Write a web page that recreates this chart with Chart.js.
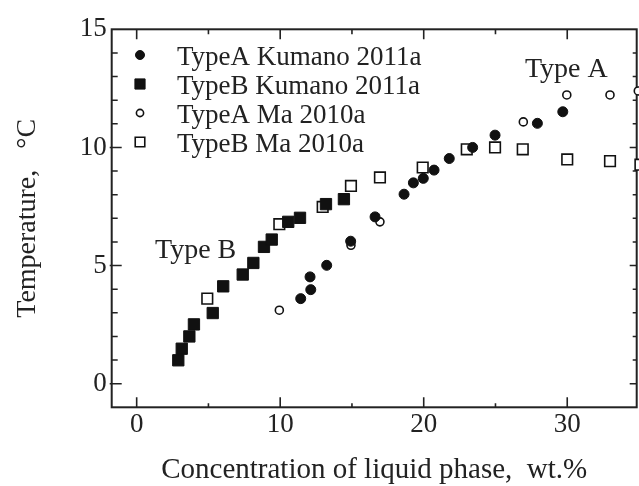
<!DOCTYPE html>
<html>
<head>
<meta charset="utf-8">
<script src="https://cdn.jsdelivr.net/npm/chart.js@4.4.1/dist/chart.umd.min.js"></script>
<style>
  html, body { margin: 0; padding: 0; background: #fff; }
  #wrap { width: 639px; height: 486px; }
</style>
</head>
<body>
<div id="wrap"><canvas id="phaseChart" width="639" height="486"></canvas></div>
<script>
// series names (legend order)
const seriesNames = ['TypeA Kumano 2011a', 'TypeB Kumano 2011a', 'TypeA Ma 2010a', 'TypeB Ma 2010a'];

// TypeA Kumano 2011a  (filled circles)
const typeAKumanoX = [11.43, 12.13, 12.08, 13.24, 14.91, 16.61, 18.63, 19.28, 19.97, 20.72, 21.78, 23.41, 24.97, 27.92, 29.69];
const typeAKumanoY = [3.60, 3.98, 4.52, 5.01, 6.03, 7.06, 8.02, 8.50, 8.69, 9.04, 9.53, 10.00, 10.52, 11.02, 11.51];

// TypeB Kumano 2011a  (filled squares)
const typeBKumanoX = [2.90, 3.14, 3.67, 3.99, 5.30, 6.03, 7.39, 8.13, 8.87, 9.41, 10.56, 11.38, 13.19, 14.44];
const typeBKumanoY = [0.99, 1.48, 2.00, 2.51, 2.99, 4.12, 4.62, 5.11, 5.79, 6.10, 6.85, 7.02, 7.60, 7.81];

// TypeA Ma 2010a  (open circles)
const typeAMaX = [9.94, 14.93, 16.95, 26.94, 29.97, 32.98, 34.95];
const typeAMaY = [3.11, 5.86, 6.85, 11.08, 12.22, 12.22, 12.39];

// TypeB Ma 2010a  (open squares)
const typeBMaX = [4.92, 9.94, 12.96, 14.93, 16.95, 19.93, 23.00, 24.97, 26.90, 30.00, 32.98, 35.1];
const typeBMaY = [3.60, 6.75, 7.48, 8.37, 8.73, 9.15, 9.92, 10.00, 9.92, 9.49, 9.42, 9.27];

// labelled ticks
const xTickLabels = [0, 10, 20, 30];
const yTickLabels = [0, 5, 10, 15];

// text notes placed in data units
const noteText = ['Type A', 'Type B'];
const noteX = [27.05, 1.28];
const noteY = [13.0, 5.3];

const serif = 'Liberation Serif, Times New Roman, serif';
const ink = '#222';

const toPoints = (xs, ys) => xs.map((x, i) => ({ x: x, y: ys[i] }));

// box with inward ticks on all four sides
const framePlugin = {
  id: 'frame',
  beforeDatasetsDraw(chart) {
    const { ctx, chartArea: a, scales: { x, y } } = chart;
    ctx.save();
    ctx.strokeStyle = ink;
    ctx.lineWidth = 2;
    ctx.strokeRect(a.left, a.top, a.right - a.left, a.bottom - a.top);
    ctx.lineWidth = 1.6;
    ctx.beginPath();
    x.ticks.forEach(t => {
      if (t.value <= x.min || t.value >= x.max) return;
      const px = x.getPixelForValue(t.value);
      const major = t.value % 10 === 0;
      ctx.moveTo(px, a.bottom); ctx.lineTo(px, a.bottom - (major ? 10 : 4));
      ctx.moveTo(px, a.top); ctx.lineTo(px, a.top + (major ? 10 : 5));
    });
    y.ticks.forEach(t => {
      if (t.value <= y.min || t.value >= y.max) return;
      const py = y.getPixelForValue(t.value);
      const major = t.value % 5 === 0;
      ctx.moveTo(a.left - (major ? 2 : 0), py); ctx.lineTo(a.left + (major ? 10 : 6), py);
      ctx.moveTo(a.right, py); ctx.lineTo(a.right - (major ? 7 : 4), py);
    });
    ctx.stroke();
    ctx.restore();
  }
};

// legend box in the upper left of the plot
const legendPlugin = {
  id: 'boxLegend',
  afterDraw(chart) {
    const ctx = chart.ctx;
    ctx.save();
    ctx.font = '27px ' + serif;
    ctx.fillStyle = ink;
    ctx.textAlign = 'left';
    ctx.textBaseline = 'alphabetic';
    chart.data.datasets.forEach((ds, i) => {
      const base = 65 + i * 29;
      const mx = 140, my = base - 10;
      const r = ds.pointRadius * 0.9;
      ctx.beginPath();
      if (ds.pointStyle === 'rect') {
        const s = Math.SQRT1_2 * r;
        ctx.rect(mx - s, my - s, 2 * s, 2 * s);
      } else {
        ctx.arc(mx, my, r, 0, Math.PI * 2);
      }
      ctx.fillStyle = ds.pointBackgroundColor;
      ctx.fill();
      ctx.lineWidth = ds.pointBorderWidth;
      ctx.strokeStyle = ds.pointBorderColor;
      ctx.stroke();
      ctx.fillStyle = ink;
      ctx.fillText(ds.label, 177, base);
    });
    ctx.restore();
  }
};

const notesPlugin = {
  id: 'notes',
  afterDraw(chart) {
    const { ctx, scales: { x, y } } = chart;
    ctx.save();
    ctx.font = '28px ' + serif;
    ctx.fillStyle = ink;
    ctx.textAlign = 'left';
    ctx.textBaseline = 'alphabetic';
    noteText.forEach((t, i) => {
      ctx.fillText(t, x.getPixelForValue(noteX[i]), y.getPixelForValue(noteY[i]));
    });
    ctx.restore();
  }
};

new Chart(document.getElementById('phaseChart'), {
  type: 'scatter',
  data: {
    datasets: [
      {
        label: seriesNames[0],
        data: toPoints(typeAKumanoX, typeAKumanoY),
        pointStyle: 'circle', pointRadius: 5,
        pointBackgroundColor: '#111', pointBorderColor: '#111', pointBorderWidth: 1,
        clip: false
      },
      {
        label: seriesNames[1],
        data: toPoints(typeBKumanoX, typeBKumanoY),
        pointStyle: 'rect', pointRadius: 8,
        pointBackgroundColor: '#111', pointBorderColor: '#111', pointBorderWidth: 1,
        clip: false
      },
      {
        label: seriesNames[2],
        data: toPoints(typeAMaX, typeAMaY),
        pointStyle: 'circle', pointRadius: 4,
        pointBackgroundColor: '#fff', pointBorderColor: '#111', pointBorderWidth: 1.6,
        clip: false
      },
      {
        label: seriesNames[3],
        data: toPoints(typeBMaX, typeBMaY),
        pointStyle: 'rect', pointRadius: 7.5,
        pointBackgroundColor: '#fff', pointBorderColor: '#111', pointBorderWidth: 1.6,
        clip: false
      }
    ]
  },
  options: {
    responsive: false,
    animation: false,
    events: [],
    layout: { autoPadding: false, padding: { left: 0, top: 29.3, right: 2.3, bottom: 0 } },
    plugins: {
      legend: { display: false },
      tooltip: { enabled: false }
    },
    scales: {
      x: {
        type: 'linear',
        min: -1.74,
        max: 34.84,
        grid: { display: false, drawTicks: false },
        border: { display: false },
        ticks: {
          stepSize: 5,
          includeBounds: false,
          autoSkip: false,
          maxRotation: 0,
          padding: 1.5,
          color: ink,
          font: { family: serif, size: 27 },
          callback: v => xTickLabels.includes(v) ? String(v) : ''
        },
        title: {
          display: true,
          text: 'Concentration of liquid phase,  wt.%',
          color: ink,
          font: { family: serif, size: 29 },
          padding: { top: 0, bottom: -2 }
        },
        afterFit(scale) {
          scale.height = 78.7;
          scale.paddingLeft = 0;
          scale.paddingRight = 0;
        }
      },
      y: {
        type: 'linear',
        min: -1,
        max: 15,
        grid: { display: false, drawTicks: false },
        border: { display: false },
        ticks: {
          stepSize: 1,
          includeBounds: false,
          autoSkip: false,
          padding: 5,
          color: ink,
          font: { family: serif, size: 27 },
          callback: v => yTickLabels.includes(v) ? String(v) : ''
        },
        title: {
          display: true,
          text: 'Temperature,   °C',
          color: ink,
          font: { family: serif, size: 28 },
          padding: { top: 11, bottom: 0 }
        },
        afterFit(scale) {
          scale.width = 111.7;
          scale.paddingTop = 0;
          scale.paddingBottom = 0;
        }
      }
    }
  },
  plugins: [framePlugin, legendPlugin, notesPlugin]
});
</script>
</body>
</html>
